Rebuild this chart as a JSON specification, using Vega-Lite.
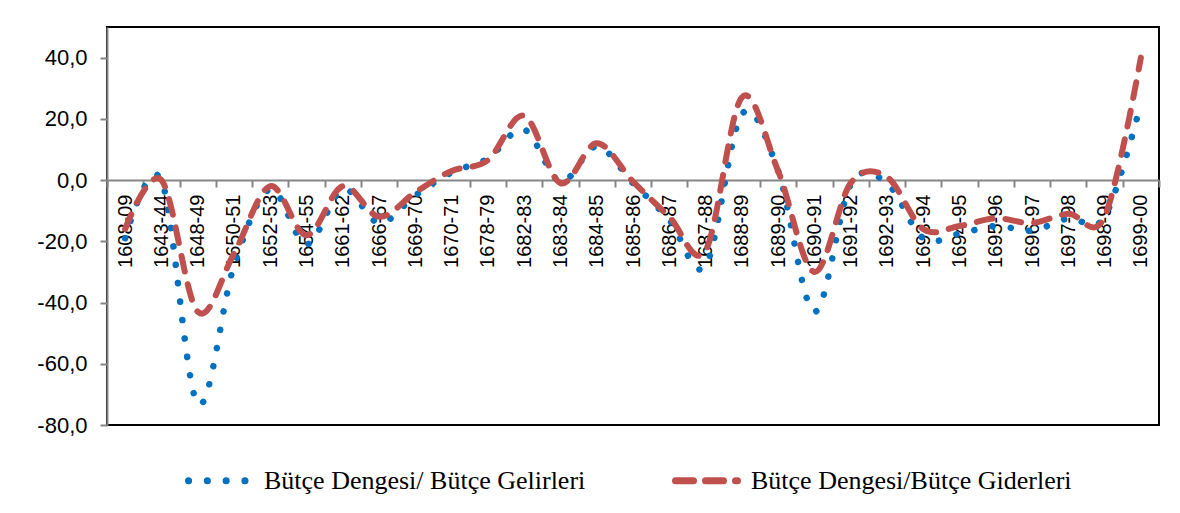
{
  "$schema": "https://vega.github.io/schema/vega-lite/v6.json",
  "width": 1052,
  "height": 398,
  "autosize": "none",
  "padding": {"left": 107, "top": 27, "right": 21, "bottom": 88},
  "background": "white",
  "config": {
    "locale": {"number": {"decimal": ",", "thousands": ".", "grouping": [3], "currency": ["", ""], "minus": "-"}},
    "view": {"stroke": "#000000", "strokeWidth": 2},
    "font": "Liberation Sans"
  },
  "data": {
    "values": [
      {"period": "1608-09", "series": "Bütçe Dengesi/ Bütçe Gelirleri", "value": -19},
      {"period": "1643-44", "series": "Bütçe Dengesi/ Bütçe Gelirleri", "value": 0},
      {"period": "1648-49", "series": "Bütçe Dengesi/ Bütçe Gelirleri", "value": -73},
      {"period": "1650-51", "series": "Bütçe Dengesi/ Bütçe Gelirleri", "value": -28},
      {"period": "1652-53", "series": "Bütçe Dengesi/ Bütçe Gelirleri", "value": -3},
      {"period": "1654-55", "series": "Bütçe Dengesi/ Bütçe Gelirleri", "value": -21},
      {"period": "1661-62", "series": "Bütçe Dengesi/ Bütçe Gelirleri", "value": -3},
      {"period": "1666-67", "series": "Bütçe Dengesi/ Bütçe Gelirleri", "value": -14},
      {"period": "1669-70", "series": "Bütçe Dengesi/ Bütçe Gelirleri", "value": -5},
      {"period": "1670-71", "series": "Bütçe Dengesi/ Bütçe Gelirleri", "value": 2.5},
      {"period": "1678-79", "series": "Bütçe Dengesi/ Bütçe Gelirleri", "value": 7},
      {"period": "1682-83", "series": "Bütçe Dengesi/ Bütçe Gelirleri", "value": 16.5},
      {"period": "1683-84", "series": "Bütçe Dengesi/ Bütçe Gelirleri", "value": -0.5},
      {"period": "1684-85", "series": "Bütçe Dengesi/ Bütçe Gelirleri", "value": 11},
      {"period": "1685-86", "series": "Bütçe Dengesi/ Bütçe Gelirleri", "value": -1},
      {"period": "1686-87", "series": "Bütçe Dengesi/ Bütçe Gelirleri", "value": -13},
      {"period": "1687-88", "series": "Bütçe Dengesi/ Bütçe Gelirleri", "value": -28},
      {"period": "1688-89", "series": "Bütçe Dengesi/ Bütçe Gelirleri", "value": 21.5},
      {"period": "1689-90", "series": "Bütçe Dengesi/ Bütçe Gelirleri", "value": 3},
      {"period": "1690-91", "series": "Bütçe Dengesi/ Bütçe Gelirleri", "value": -43},
      {"period": "1691-92", "series": "Bütçe Dengesi/ Bütçe Gelirleri", "value": -1.5},
      {"period": "1692-93", "series": "Bütçe Dengesi/ Bütçe Gelirleri", "value": -1},
      {"period": "1693-94", "series": "Bütçe Dengesi/ Bütçe Gelirleri", "value": -19},
      {"period": "1694-95", "series": "Bütçe Dengesi/ Bütçe Gelirleri", "value": -17.5},
      {"period": "1695-96", "series": "Bütçe Dengesi/ Bütçe Gelirleri", "value": -15},
      {"period": "1696-97", "series": "Bütçe Dengesi/ Bütçe Gelirleri", "value": -16.5},
      {"period": "1697-98", "series": "Bütçe Dengesi/ Bütçe Gelirleri", "value": -12.5},
      {"period": "1698-99", "series": "Bütçe Dengesi/ Bütçe Gelirleri", "value": -12},
      {"period": "1699-00", "series": "Bütçe Dengesi/ Bütçe Gelirleri", "value": 25},
      {"period": "1608-09", "series": "Bütçe Dengesi/Bütçe Giderleri", "value": -16},
      {"period": "1643-44", "series": "Bütçe Dengesi/Bütçe Giderleri", "value": 0},
      {"period": "1648-49", "series": "Bütçe Dengesi/Bütçe Giderleri", "value": -43},
      {"period": "1650-51", "series": "Bütçe Dengesi/Bütçe Giderleri", "value": -24},
      {"period": "1652-53", "series": "Bütçe Dengesi/Bütçe Giderleri", "value": -2},
      {"period": "1654-55", "series": "Bütçe Dengesi/Bütçe Giderleri", "value": -18},
      {"period": "1661-62", "series": "Bütçe Dengesi/Bütçe Giderleri", "value": -2},
      {"period": "1666-67", "series": "Bütçe Dengesi/Bütçe Giderleri", "value": -12},
      {"period": "1669-70", "series": "Bütçe Dengesi/Bütçe Giderleri", "value": -4},
      {"period": "1670-71", "series": "Bütçe Dengesi/Bütçe Giderleri", "value": 3},
      {"period": "1678-79", "series": "Bütçe Dengesi/Bütçe Giderleri", "value": 6.5},
      {"period": "1682-83", "series": "Bütçe Dengesi/Bütçe Giderleri", "value": 21},
      {"period": "1683-84", "series": "Bütçe Dengesi/Bütçe Giderleri", "value": -1},
      {"period": "1684-85", "series": "Bütçe Dengesi/Bütçe Giderleri", "value": 12},
      {"period": "1685-86", "series": "Bütçe Dengesi/Bütçe Giderleri", "value": -0.5},
      {"period": "1686-87", "series": "Bütçe Dengesi/Bütçe Giderleri", "value": -12},
      {"period": "1687-88", "series": "Bütçe Dengesi/Bütçe Giderleri", "value": -23},
      {"period": "1688-89", "series": "Bütçe Dengesi/Bütçe Giderleri", "value": 27},
      {"period": "1689-90", "series": "Bütçe Dengesi/Bütçe Giderleri", "value": 3},
      {"period": "1690-91", "series": "Bütçe Dengesi/Bütçe Giderleri", "value": -30},
      {"period": "1691-92", "series": "Bütçe Dengesi/Bütçe Giderleri", "value": -1},
      {"period": "1692-93", "series": "Bütçe Dengesi/Bütçe Giderleri", "value": 1},
      {"period": "1693-94", "series": "Bütçe Dengesi/Bütçe Giderleri", "value": -16},
      {"period": "1694-95", "series": "Bütçe Dengesi/Bütçe Giderleri", "value": -15},
      {"period": "1695-96", "series": "Bütçe Dengesi/Bütçe Giderleri", "value": -12.5},
      {"period": "1696-97", "series": "Bütçe Dengesi/Bütçe Giderleri", "value": -14},
      {"period": "1697-98", "series": "Bütçe Dengesi/Bütçe Giderleri", "value": -11},
      {"period": "1698-99", "series": "Bütçe Dengesi/Bütçe Giderleri", "value": -12},
      {"period": "1699-00", "series": "Bütçe Dengesi/Bütçe Giderleri", "value": 40}
    ]
  },
  "encoding": {
    "x": {
      "field": "period", "type": "ordinal", "sort": null, "bandPosition": 0.5,
      "scale": {"type": "band", "paddingInner": 0, "paddingOuter": 0},
      "axis": {
        "title": null, "orient": "bottom", "offset": -245, "labelAngle": -90,
        "labelFont": "Liberation Sans", "labelFontSize": 20, "labelColor": "#000000",
        "tickBand": "extent", "tickSize": 7, "tickColor": "#868686", "tickWidth": 2,
        "domainColor": "#868686", "domainWidth": 2, "labelPadding": 7, "grid": false, "zindex": 0
      }
    },
    "y": {
      "field": "value", "type": "quantitative",
      "scale": {"domain": [-80, 50], "nice": false, "zero": false},
      "axis": {
        "title": null, "values": [-80, -60, -40, -20, 0, 20, 40], "format": ".1f",
        "labelFont": "Liberation Sans", "labelFontSize": 22, "labelColor": "#000000",
        "tickSize": 7, "tickColor": "#868686", "tickWidth": 2,
        "domainColor": "#868686", "domainWidth": 2, "labelPadding": 13, "grid": false
      }
    },
    "color": {
      "field": "series", "type": "nominal",
      "scale": {"domain": ["Bütçe Dengesi/ Bütçe Gelirleri", "Bütçe Dengesi/Bütçe Giderleri"], "range": ["#0070C0", "#C0504D"]},
      "legend": {
        "title": null, "orient": "none", "legendX": 78, "legendY": 419, "direction": "horizontal",
        "symbolType": "stroke", "symbolSize": 3844, "symbolStrokeWidth": 7,
        "labelFont": "Liberation Serif", "labelFontSize": 26, "labelColor": "#000000", "labelLimit": 0,
        "columnPadding": 75, "labelOffset": 10, "padding": 0, "symbolOffset": 0,
        "encode": {"symbols": {"update": {
          "strokeDash": {"signal": "datum.value === 'Bütçe Dengesi/ Bütçe Gelirleri' ? [0.1, 18.7] : [18, 12]"},
          "strokeCap": {"value": "round"}
        }}}
      }
    }
  },
  "layer": [
    {
      "transform": [{"filter": "datum.series === 'Bütçe Dengesi/ Bütçe Gelirleri'"}],
      "mark": {"type": "line", "interpolate": "cardinal", "strokeWidth": 6.5, "strokeDash": [0.1, 18.4], "strokeCap": "round"}
    },
    {
      "transform": [{"filter": "datum.series === 'Bütçe Dengesi/Bütçe Giderleri'"}],
      "mark": {"type": "line", "interpolate": "cardinal", "strokeWidth": 6, "strokeDash": [16, 13], "strokeCap": "round"}
    }
  ]
}
